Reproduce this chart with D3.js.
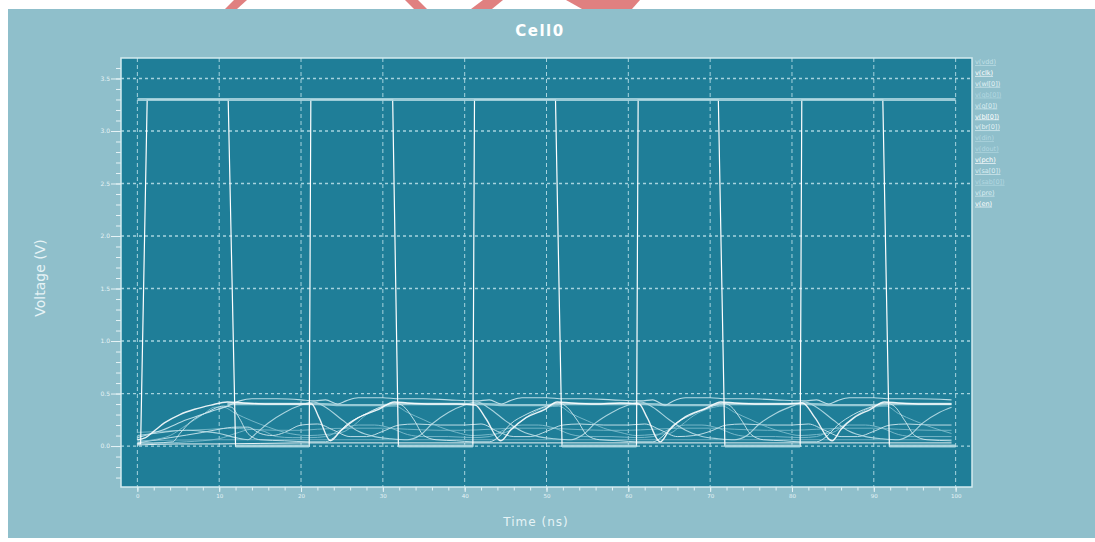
<!DOCTYPE html>
<html>
<head>
<meta charset="utf-8">
<script src="https://cdn.jsdelivr.net/npm/d3@7"></script>
<style>
  body { margin: 0; background: #fff; }
  svg { display: block; }
  text { font-family: "DejaVu Sans", sans-serif; }
</style>
</head>
<body>
<svg id="chart"></svg>
<script>
// ---- data (time in ns, voltage in V) ----
const xTicks = [0, 10, 20, 30, 40, 50, 60, 70, 80, 90, 100];
const yTicks = [0, 0.5, 1.0, 1.5, 2.0, 2.5, 3.0, 3.5];

const vdd = [[0, 3.3], [100, 3.3]];
const clk = [[0, 0.02], [0.4, 0.02], [1.2, 3.3], [11.1, 3.3], [12.0, 0], [21.0, 0], [21.2, 3.3],
  [31.2, 3.3], [31.9, 0], [41.0, 0], [41.2, 3.3], [51.1, 3.3], [51.9, 0], [61.0, 0], [61.2, 3.3],
  [71.0, 3.3], [71.8, 0], [81.0, 0], [81.2, 3.3], [91.1, 3.3], [91.9, 0], [100, 0]];
const pch = [[12.0, 0], [21.0, 0], null, [31.9, 0], [41.0, 0], null, [51.9, 0], [61.0, 0], null,
  [71.8, 0], [81.0, 0], null, [91.9, 0], [100, 0]];

const bl0 = [[0, .06], [1, .08], [2, .14], [3.3, .22], [5.2, .30], [7, .35], [9, .39], [11, .42], [13, .41], [16, .40], [19, .40], [21.3, .40],
  [22.2, .27], [23.6, .05], [24.8, .14], [27, .27], [29.5, .35], [31.4, .42], [33, .41], [36, .40], [39, .40], [41.3, .39],
  [42.6, .26], [44.4, .05], [45.6, .15], [47.5, .27], [49.8, .35], [51.3, .42], [53, .41], [56, .40], [59, .41], [61.3, .40],
  [62.3, .27], [63.9, .04], [65, .15], [67, .28], [69.5, .36], [71.3, .42], [73, .41], [76, .40], [79, .40], [81.3, .41],
  [82.8, .27], [84.9, .05], [86, .16], [87.6, .27], [89.6, .35], [91.3, .42], [93, .41], [96, .40], [99.5, .40]];

const br0 = [[0, .03], [2, .03], [4.3, .04], [5.2, .12], [6.5, .23], [8.5, .32], [10.5, .38], [11.5, .37], [12.5, .26], [13.5, .12], [15, .06], [18, .05], [21, .04],
  [23, .04], [24, .08], [25.5, .20], [27.5, .29], [30, .38], [31.5, .41], [32.5, .38], [33.8, .25], [35, .10], [36.5, .06], [39, .05], [41, .04],
  [43, .04], [44.2, .09], [45.6, .21], [47.5, .30], [50, .38], [51.5, .41], [52.5, .37], [53.8, .24], [55, .10], [56.5, .06], [59, .05], [61, .04],
  [63, .04], [64, .08], [65.5, .20], [67.5, .29], [70, .37], [71.5, .41], [72.5, .38], [73.8, .25], [75, .11], [76.5, .06], [79, .05], [81, .04],
  [83, .04], [84.2, .09], [85.6, .20], [87.5, .30], [90, .38], [91.5, .41], [92.5, .38], [93.8, .24], [95, .10], [96.5, .06], [99.5, .05]];

const q0 = [[0, .10], [2, .12], [4, .14], [6, .15], [8, .14], [10, .12], [12, .08], [13.5, .06], [14.5, .12], [16, .22], [18, .32], [20, .39], [21.5, .42],
  [23, .37], [25, .25], [27, .14], [29, .09], [31, .07], [33, .06], [34.5, .10], [36, .21], [38, .32], [40, .39], [41.5, .42],
  [43, .36], [45, .24], [47, .14], [49, .09], [51, .07], [53, .06], [54.5, .11], [56, .22], [58, .32], [60, .39], [61.5, .42],
  [63, .37], [65, .25], [67, .15], [69, .09], [71, .07], [73, .06], [74.5, .10], [76, .21], [78, .31], [80, .38], [81.5, .42],
  [83, .37], [85, .25], [87, .14], [89, .09], [91, .07], [93, .06], [94.5, .11], [96, .22], [98, .32], [99.5, .37]];

const qb0 = [[0, .04], [2, .06], [4, .10], [6, .20], [8, .30], [9.5, .37], [10.5, .37], [12, .31], [14, .24], [16, .18], [18, .13], [21, .10],
  [23, .11], [25, .13], [26.5, .20], [28, .30], [30, .37], [31.5, .38], [33, .32], [35, .25], [37, .18], [39, .13], [41, .10],
  [43, .11], [45, .13], [46.5, .21], [48, .30], [50, .37], [51.5, .38], [53, .31], [55, .24], [57, .17], [59, .13], [61, .10],
  [63, .11], [65, .12], [66.5, .20], [68, .29], [70, .36], [71.5, .38], [73, .32], [75, .25], [77, .18], [79, .13], [81, .10],
  [83, .11], [85, .13], [86.5, .21], [88, .30], [90, .37], [91.5, .38], [93, .31], [95, .24], [97, .18], [99.5, .12]];

const wl0 = [[0, .08], [3, .15], [6, .25], [9, .33], [11, .38], [12.5, .43], [14, .45], [17, .45], [20, .44],
  [21.5, .43], [23, .44], [24.5, .40], [25.5, .43], [27, .46], [30, .46], [32, .45], [35, .45], [38, .44],
  [41.5, .43], [43, .44], [44.5, .40], [45.5, .43], [47, .46], [50, .46], [52, .45], [55, .45], [58, .44],
  [61.5, .43], [63, .44], [64.5, .39], [65.5, .43], [67, .46], [70, .46], [72, .45], [75, .45], [78, .44],
  [81.5, .43], [83, .44], [84.5, .40], [85.5, .43], [87, .46], [90, .46], [92, .45], [95, .45], [99.5, .44]];

const pre = [[11, .40], [20, .40], [22, .40], [25, .39], [30, .39], [32, .40], [40, .40], [42, .40], [45, .39], [50, .39],
  [52, .40], [60, .40], [62, .40], [65, .39], [70, .39], [72, .40], [80, .40], [82, .40], [85, .39], [90, .39], [92, .40], [99.5, .40]];

const sa0 = [[0, .03], [4, .08], [8, .13], [10, .16], [12, .18], [13.5, .18], [15, .12], [16.5, .10], [18, .13], [20, .20],
  [22, .21], [24, .15], [26, .09], [28, .09], [30, .14], [32, .20], [34, .21], [37, .20], [40, .20],
  [42, .21], [44, .14], [46, .09], [48, .09], [50, .14], [52, .20], [54, .21], [57, .20], [60, .20],
  [62, .21], [64, .15], [66, .09], [68, .10], [70, .14], [72, .20], [74, .21], [77, .20], [80, .20],
  [82, .21], [84, .15], [86, .09], [88, .09], [90, .14], [92, .20], [94, .21], [97, .20], [99.5, .20]];

const sab0 = [[0, .02], [6, .04], [10, .07], [12, .12], [14, .16], [15.5, .14], [17, .09], [19, .08], [21, .08],
  [23, .09], [25, .16], [27, .20], [29, .20], [31, .17], [33, .11], [35, .09], [38, .09], [41, .08],
  [43, .09], [45, .16], [47, .20], [49, .20], [51, .17], [53, .11], [55, .09], [58, .09], [61, .08],
  [63, .09], [65, .16], [67, .20], [69, .20], [71, .17], [73, .11], [75, .09], [78, .09], [81, .08],
  [83, .09], [85, .16], [87, .20], [89, .20], [91, .17], [93, .11], [95, .09], [99.5, .09]];

const din = [[0, .13], [3, .14], [6, .15], [9, .16], [11, .17], [14, .16], [17, .15], [20, .15], [22, .16], [26, .17], [30, .17],
  [33, .16], [37, .15], [40, .15], [43, .16], [47, .17], [50, .17], [53, .16], [57, .15], [60, .15], [63, .16], [67, .17],
  [70, .17], [73, .16], [77, .15], [80, .15], [83, .16], [87, .17], [90, .17], [93, .16], [97, .15], [99.5, .15]];

const dout = [[0, .05], [10, .06], [20, .06], [40, .06], [60, .06], [80, .06], [99.5, .06]];
const en = [[0, .01], [5, .02], [10, .02], [20, .03], [40, .03], [60, .03], [80, .03], [99.5, .03]];

const seriesNames = ["v(vdd)", "v(clk)", "v(wl[0])", "v(qb[0])", "v(q[0])", "v(bl[0])", "v(br[0])",
  "v(din)", "v(dout)", "v(pch)", "v(sa[0])", "v(sab[0])", "v(pre)", "v(en)"];
const seriesData = [vdd, clk, wl0, qb0, q0, bl0, br0, din, dout, pch, sa0, sab0, pre, en];

// ---- styles ----
const seriesColor = ["#a9d4de", "#ffffff", "#c9e6ed", "#7dbccd", "#b8dde6", "#ffffff", "#d2eaf0",
  "#78b8c9", "#74b4c6", "#a9d4de", "#cfe8ee", "#7fbdcd", "#a3d2dc", "#ffffff"];
const seriesWidth = [3, 1.2, 1.1, 1, 1.1, 1.4, 1, 1, 1, 3, 1, 1, 2.4, 1];
const legendColor = ["#c2e0e7", "#ffffff", "#e2f2f5", "#b3d8e1", "#dbeef2", "#ffffff", "#e2f2f5",
  "#b3d8e1", "#b3d8e1", "#ffffff", "#dbeef2", "#b3d8e1", "#dbeef2", "#ffffff"];

const W = 1095, H = 542;
const svg = d3.select("#chart").attr("width", W).attr("height", H);

// pink shapes peeking above the panel
const blobs = [[[234, 0], [247, 0], [237, 9], [225, 9]], [[405, 0], [418, 0], [427, 9], [414, 9]],
  [[483, 0], [503, 0], [492, 9], [471, 9]], [[566, 0], [640, 0], [632, 9], [582, 9]]];
svg.append("g").selectAll("polygon").data(blobs).join("polygon")
  .attr("points", d => d.join(" ")).attr("fill", "#e08080");

svg.append("rect").attr("x", 8).attr("y", 9).attr("width", W - 8).attr("height", 529).attr("fill", "#8fbfcb");

const m = { l: 121, t: 58, r: 972, b: 487 };
const x = d3.scaleLinear().domain([-2, 102]).range([m.l, m.r]);
const y = d3.scaleLinear().domain([-0.39, 3.695]).range([m.b, m.t]);

svg.append("rect").attr("x", m.l).attr("y", m.t).attr("width", m.r - m.l).attr("height", m.b - m.t).attr("fill", "#1f7e98");

svg.append("clipPath").attr("id", "clip").append("rect")
  .attr("x", m.l).attr("y", m.t).attr("width", m.r - m.l).attr("height", m.b - m.t);

// grid
const grid = svg.append("g").attr("clip-path", "url(#clip)");
grid.selectAll(".vg").data(xTicks).join("line")
  .attr("x1", d => x(d)).attr("x2", d => x(d)).attr("y1", m.t).attr("y2", m.b)
  .attr("stroke", "#a6d3de").attr("stroke-width", 1).attr("stroke-dasharray", "4,3");
grid.selectAll(".hg").data(yTicks).join("line")
  .attr("x1", m.l).attr("x2", m.r).attr("y1", d => y(d)).attr("y2", d => y(d))
  .attr("stroke", "#a6d3de").attr("stroke-width", 1.3).attr("stroke-dasharray", "3,3");

// traces: clock first so the thick rails sit over its flat parts
const smooth = d3.line().defined(d => d).x(d => x(d[0])).y(d => y(d[1])).curve(d3.curveMonotoneX);
const sharp = d3.line().defined(d => d).x(d => x(d[0])).y(d => y(d[1]));
const order = [13, 8, 7, 11, 10, 3, 12, 2, 4, 6, 5, 1, 0, 9];
const traces = svg.append("g").attr("clip-path", "url(#clip)");
order.forEach(i => {
  traces.append("path")
    .attr("d", (i === 1 || i === 0 || i === 9) ? sharp(seriesData[i]) : smooth(seriesData[i]))
    .attr("fill", "none")
    .attr("stroke", seriesColor[i])
    .attr("stroke-width", seriesWidth[i])
    .attr("opacity", i === 1 ? 1 : 0.9);
});

// axes
const axCol = "#e6f3f6";
const xMinor = d3.range(0, 101, 2);
const yMinor = d3.range(-3, 37).map(d => d / 10);

const gx = svg.append("g").attr("transform", "translate(0," + m.b + ")");
gx.call(d3.axisBottom(x).tickValues(xMinor).tickSize(3.5).tickFormat(""));
gx.append("g").call(d3.axisBottom(x).tickValues(xTicks).tickSize(5).tickPadding(2).tickFormat(d3.format("d")));
gx.selectAll(".domain").remove();
gx.selectAll("line").attr("stroke", axCol);
gx.selectAll("text").attr("fill", axCol).attr("font-size", 5.5);

const gy = svg.append("g").attr("transform", "translate(" + m.l + ",0)");
gy.call(d3.axisLeft(y).tickValues(yMinor).tickSize(5).tickFormat(""));
gy.append("g").call(d3.axisLeft(y).tickValues(yTicks).tickSize(10).tickPadding(1).tickFormat(d3.format(".1f")));
gy.selectAll(".domain").remove();
gy.selectAll("line").attr("stroke", axCol);
gy.selectAll("text").attr("fill", axCol).attr("font-size", 6);

// frame
svg.append("rect").attr("x", m.l).attr("y", m.t).attr("width", m.r - m.l).attr("height", m.b - m.t)
  .attr("fill", "none").attr("stroke", "#d3ebf0").attr("stroke-width", 1.5);

// titles
svg.append("text").attr("x", 540).attr("y", 36).attr("text-anchor", "middle")
  .attr("fill", "#ffffff").attr("font-size", 15).attr("font-weight", "bold").attr("letter-spacing", 1.5)
  .text("Cell0");
svg.append("text").attr("transform", "translate(45,278) rotate(-90)").attr("text-anchor", "middle")
  .attr("fill", "#e6f3f6").attr("font-size", 14).text("Voltage (V)");
svg.append("text").attr("x", 536).attr("y", 526).attr("text-anchor", "middle")
  .attr("fill", "#e6f3f6").attr("font-size", 12).attr("letter-spacing", 1).text("Time (ns)");

// legend
const leg = svg.append("g").attr("transform", "translate(975,0)");
leg.selectAll("text").data(seriesNames).join("text")
  .attr("x", 0).attr("y", (d, i) => 64 + i * 10.9)
  .attr("fill", (d, i) => legendColor[i])
  .attr("font-size", 6.5)
  .attr("text-decoration", "underline")
  .text(d => d);
</script>
</body>
</html>
